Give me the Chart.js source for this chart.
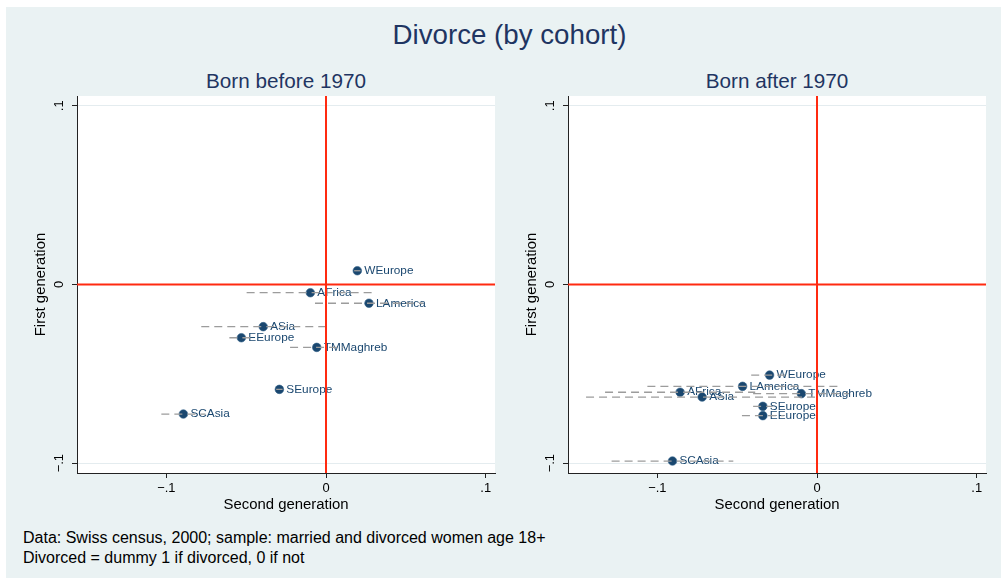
<!DOCTYPE html>
<html>
<head>
<meta charset="utf-8">
<script src="https://cdn.jsdelivr.net/npm/chart.js@4.4.1/dist/chart.umd.min.js"></script>
<style>
  html, body { margin: 0; padding: 0; background: #fff; }
  body { width: 1001px; height: 578px; position: relative; overflow: hidden; font-family: "Liberation Sans", Arial, sans-serif; }
  #bg { position: absolute; left: 6px; top: 7px; width: 995px; height: 571px; background: #eaf2f3; }
  .txt { position: absolute; line-height: 1; white-space: nowrap; }
  .title { color: #1f3562; font-size: 27.7px; transform: translateX(-50%); }
  .sub { color: #1f3562; font-size: 20.7px; transform: translateX(-50%); }
  .note { color: #000; font-size: 16px; left: 23px; }
  canvas { position: absolute; top: 90px; }
</style>
</head>
<body>
<div id="bg"></div>
<div class="txt title" style="left:509.5px; top:20.5px">Divorce (by cohort)</div>
<div class="txt sub" style="left:286px; top:70.7px">Born before 1970</div>
<div class="txt sub" style="left:777px; top:70.7px">Born after 1970</div>
<div class="txt note" style="top:530.2px">Data: Swiss census, 2000; sample: married and divorced women age 18+</div>
<div class="txt note" style="top:549.7px">Divorced = dummy 1 if divorced, 0 if not</div>
<canvas id="before" width="480" height="430" style="left:20px"></canvas>
<canvas id="after" width="480" height="430" style="left:511px"></canvas>
<script>
var FONT = '"Liberation Sans", Arial, sans-serif';

var regions = ['WEurope', 'AFrica', 'LAmerica', 'ASia', 'EEurope', 'TMMaghreb', 'SEurope', 'SCAsia'];

// born before 1970: x = second generation, y = first generation, lo/hi = CI of second generation
var beforeSecond = [0.0196, -0.0098, 0.0269, -0.0393, -0.0530, -0.0058, -0.0292, -0.0893];
var beforeFirst  = [0.0077, -0.0046, -0.0105, -0.0236, -0.0298, -0.0352, -0.0587, -0.0725];
var beforeLo     = [0.0176, -0.0497, -0.0069, -0.0781, -0.0605, -0.0225, -0.0312, -0.1031];
var beforeHi     = [0.0216, 0.0300, 0.0607, 0.0005, -0.0455, 0.0109, -0.0272, -0.0755];

// born after 1970
var afterSecond = [-0.0297, -0.0857, -0.0466, -0.0719, -0.0339, -0.0098, -0.0339, -0.0905];
var afterFirst  = [-0.0507, -0.0603, -0.0570, -0.0630, -0.0734, -0.0611, -0.0682, -0.0988];
var afterLo     = [-0.0412, -0.1327, -0.1062, -0.1446, -0.0470, -0.0400, -0.0400, -0.1286];
var afterHi     = [-0.0182, -0.0387, 0.0130, 0.0008, -0.0208, 0.0200, -0.0278, -0.0524];

var xTicks = [-0.1, 0, 0.1];
var xTickLabels = ['\u2212.1', '0', '.1'];
var yTicks = [-0.1, 0, 0.1];
var yTickLabels = ['\u2212.1', '0', '.1'];
var xMin = -0.1559, xMax = 0.1058;
var yMin = -0.1055, yMax = 0.1055;

var stataPlot = {
  id: 'stataPlot',
  beforeDraw: function (chart) {
    var a = chart.chartArea, ctx = chart.ctx;
    ctx.save();
    ctx.fillStyle = '#ffffff';
    ctx.fillRect(a.left, a.top, a.right - a.left, a.bottom - a.top);
    ctx.restore();
  },
  // marker labels go right after the markers, under the CI dashes
  afterDatasetDraw: function (chart, args) {
    if (args.index !== 0) return;
    var ctx = chart.ctx, names = chart.data.datasets[0].names;
    ctx.save();
    ctx.font = '11.8px ' + FONT;
    ctx.fillStyle = '#1a476f';
    ctx.textBaseline = 'middle';
    args.meta.data.forEach(function (pt, i) {
      ctx.fillText(names[i], pt.x + 7, pt.y);
    });
    ctx.restore();
  },
  afterDatasetsDraw: function (chart) {
    var a = chart.chartArea, ctx = chart.ctx;
    var x0 = chart.scales.x.getPixelForValue(0);
    var y0 = chart.scales.y.getPixelForValue(0);
    ctx.save();
    ctx.strokeStyle = '#ff2a10';
    ctx.lineWidth = 2;
    ctx.beginPath();
    ctx.moveTo(a.left, y0); ctx.lineTo(a.right, y0);
    ctx.moveTo(x0, a.top); ctx.lineTo(x0, a.bottom);
    ctx.stroke();
    ctx.restore();
  },
  afterDraw: function (chart) {
    // rotated y tick labels, as stata draws them
    var a = chart.chartArea, ctx = chart.ctx, ys = chart.scales.y;
    ctx.save();
    ctx.font = '12.9px ' + FONT;
    ctx.fillStyle = '#000';
    ctx.textAlign = 'center';
    ctx.textBaseline = 'middle';
    yTicks.forEach(function (v, i) {
      ctx.save();
      ctx.translate(a.left - 18, ys.getPixelForValue(v));
      ctx.rotate(-Math.PI / 2);
      ctx.fillText(yTickLabels[i], 0, 0);
      ctx.restore();
    });
    ctx.restore();
  }
};

function makeChart(id, second, first, lo, hi) {
  var points = second.map(function (v, i) { return { x: v, y: first[i] }; });
  var ciSets = regions.map(function (r, i) {
    return {
      type: 'line',
      data: [{ x: lo[i], y: first[i] }, { x: hi[i], y: first[i] }],
      borderColor: '#9c9c9c',
      borderWidth: 1.3,
      borderDash: [8, 5],
      pointRadius: 0,
      order: 0
    };
  });
  return new Chart(document.getElementById(id), {
    type: 'scatter',
    data: {
      datasets: [{
        names: regions,
        data: points,
        backgroundColor: '#1a476f',
        borderColor: '#2f5f88',
        borderWidth: 0.6,
        pointRadius: 4.3,
        order: 1
      }].concat(ciSets)
    },
    options: {
      responsive: false,
      animation: false,
      devicePixelRatio: 1,
      layout: { padding: { top: 6, right: 5, left: 0, bottom: 0 } },
      plugins: { legend: { display: false }, tooltip: { enabled: false } },
      scales: {
        x: {
          type: 'linear', min: xMin, max: xMax,
          afterBuildTicks: function (s) { s.ticks = xTicks.map(function (v) { return { value: v }; }); },
          afterFit: function (s) { s.height = 47; },
          ticks: {
            callback: function (v, i) { return xTickLabels[i]; },
            color: '#000', font: { family: FONT, size: 12.9 }, padding: 3,
            maxRotation: 0, autoSkip: false
          },
          grid: { drawOnChartArea: false, tickLength: 5, tickColor: '#222' },
          border: { color: '#222', width: 1 },
          title: {
            display: true, text: 'Second generation', color: '#000',
            font: { family: FONT, size: 14.9 }, padding: { top: 0, bottom: 6.6 }
          }
        },
        y: {
          type: 'linear', min: yMin, max: yMax,
          afterBuildTicks: function (s) { s.ticks = yTicks.map(function (v) { return { value: v }; }); },
          afterFit: function (s) { s.width = 57; },
          ticks: { display: false },
          grid: { color: '#e4ecef', tickLength: 5, tickColor: '#222' },
          border: { color: '#222', width: 1 },
          title: {
            display: true, text: 'First generation', color: '#000',
            font: { family: FONT, size: 14.9 }, padding: { top: 12, bottom: 0 }
          }
        }
      }
    },
    plugins: [stataPlot]
  });
}

makeChart('before', beforeSecond, beforeFirst, beforeLo, beforeHi);
makeChart('after', afterSecond, afterFirst, afterLo, afterHi);
</script>
</body>
</html>
